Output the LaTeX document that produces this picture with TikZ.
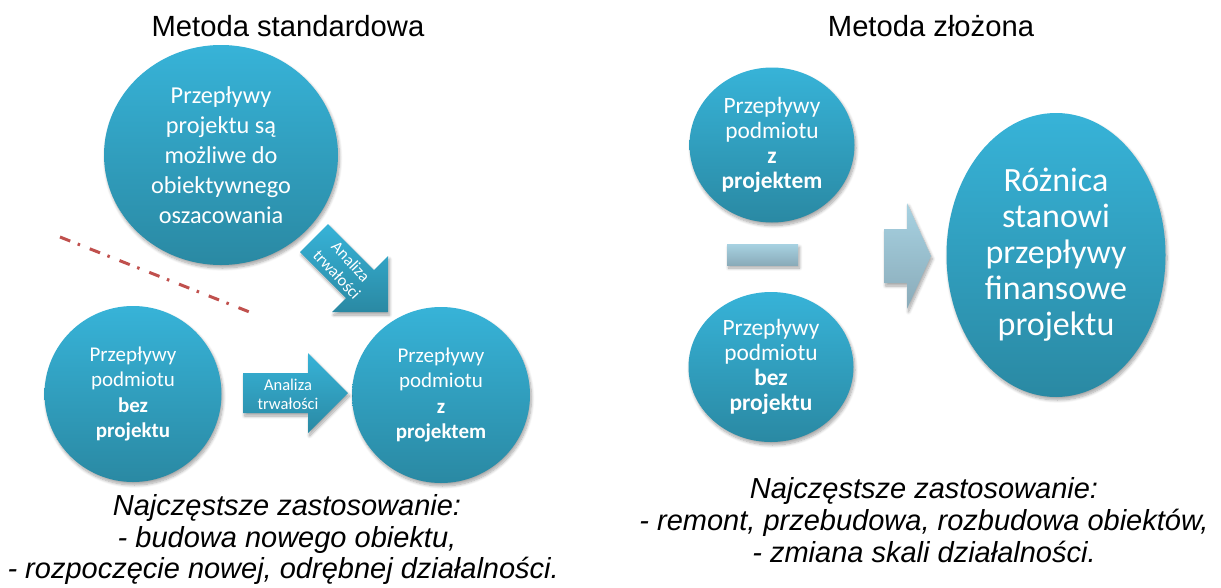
\documentclass[tikz,border=0pt]{standalone}
\usepackage{fontspec}
\setmainfont{Liberation Sans}
\newfontfamily\cbr{Carlito}
\usetikzlibrary{shapes.geometric,shadows.blur}
\definecolor{ctop}{HTML}{37B3D8}
\definecolor{cbot}{HTML}{2A89A3}
\definecolor{ltop}{HTML}{A7D2E2}
\definecolor{lbot}{HTML}{8AABB9}
\definecolor{dashred}{HTML}{C0504D}
\begin{document}
\begin{tikzpicture}[x=1pt,y=-1pt,
  softshadow/.style={blur shadow={shadow xshift=1.5pt, shadow yshift=-3pt, shadow opacity=35, shadow blur radius=3pt, shadow blur steps=8}},
  bubble/.style={ellipse, inner sep=0pt, top color=ctop, bottom color=cbot, draw=none, text=white, align=center, softshadow},
  bluearrow/.style={top color=ctop, bottom color=cbot, draw=none, softshadow},
  lightshape/.style={top color=ltop, bottom color=lbot, draw=none, softshadow},
  title/.style={font=\fontsize{29.2}{35}\selectfont, anchor=base},
  usage/.style={font=\fontsize{29}{34}\selectfont\itshape, anchor=base},
  arrowtext/.style={text=white, align=center, inner sep=0pt, font=\cbr\fontsize{16.5}{19}\selectfont},
]
\useasboundingbox (0,0) rectangle (1221,587);

% titles
\node[title] (t1) at (288,36) {Metoda standardowa};
\node[title] (t2) at (931,36) {Metoda złożona};

% dash-dot separator
\coordinate (d1) at (60,237);
\coordinate (d2) at (252,313);
\draw[dashred, line width=3pt, dash pattern=on 11pt off 8pt on 2.5pt off 10.5pt] (d1) -- (d2);

% left method bubbles
\node[bubble, minimum width=234pt, minimum height=220pt,
      font=\cbr\fontsize{24.3}{30}\selectfont] (A) at (221,155)
  {Przepływy\\projektu są\\możliwe do\\obiektywnego\\oszacowania};
\node[bubble, minimum width=177pt, minimum height=176pt,
      font=\cbr\fontsize{21}{25.5}\selectfont] (B) at (133,394)
  {Przepływy\\podmiotu\\\textbf{bez}\\\textbf{projektu}};
\node[bubble, minimum width=178pt, minimum height=176pt,
      font=\cbr\fontsize{21}{25.5}\selectfont] (C) at (441,395)
  {Przepływy\\podmiotu\\\textbf{z}\\\textbf{projektem}};

% horizontal arrow B -> C
\path[bluearrow] (243,373) -- (308,373) -- (308,353) -- (348,393) -- (308,433) -- (308,413) -- (243,413) -- cycle;
\node[arrowtext] (h) at (288,394) {Analiza\\trwałości};

% diagonal arrow A -> C
\path[bluearrow] (300,252) -- (328,224) -- (374,270) -- (388,256) -- (388,312) -- (332,312) -- (346,298) -- cycle;
\node[arrowtext, rotate=-47] (g) at (344,268) {Analiza\\trwałości};

% right method
\node[bubble, minimum width=165pt, minimum height=155pt,
      font=\cbr\fontsize{23.4}{25}\selectfont] (D) at (772,145)
  {Przepływy\\podmiotu\\\textbf{z}\\\textbf{projektem}};
\node[bubble, minimum width=165pt, minimum height=150pt,
      font=\cbr\fontsize{23.4}{25}\selectfont] (E) at (771,367)
  {Przepływy\\podmiotu\\\textbf{bez}\\\textbf{projektu}};
\path[lightshape] (727,244) rectangle (798,265);
\path[lightshape] (884,229) -- (907,229) -- (907,203) -- (931,256) -- (907,309) -- (907,283) -- (884,283) -- cycle;
\node[bubble, minimum width=219pt, minimum height=284pt,
      font=\cbr\fontsize{34}{36}\selectfont] (F) at (1056,255)
  {Różnica\\stanowi\\przepływy\\finansowe\\projektu};

% usage texts
\node[usage] (u1) at (287,515) {Najczęstsze zastosowanie:};
\node[usage] (u2) at (287,547) {- budowa nowego obiektu,};
\node[usage, anchor=base west] (u3) at (4,578) {- rozpoczęcie nowej, odrębnej działalności.};
\node[usage] (v1) at (924,498) {Najczęstsze zastosowanie:};
\node[usage] (v2) at (924,530) {- remont, przebudowa, rozbudowa obiektów,};
\node[usage] (v3) at (924,562) {- zmiana skali działalności.};
\end{tikzpicture}
\end{document}
